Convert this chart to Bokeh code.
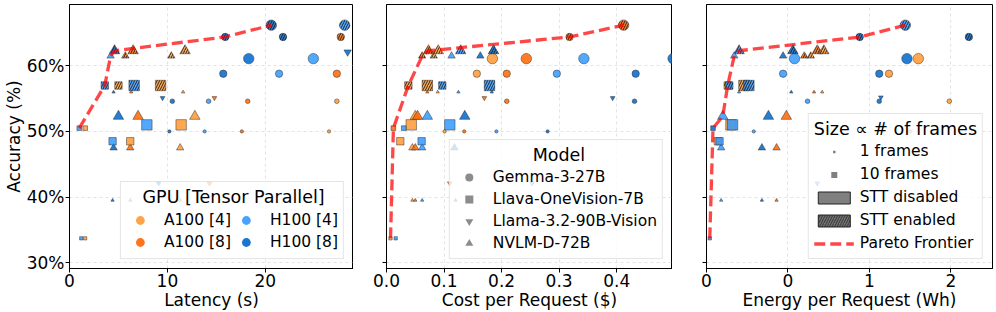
import math
from bokeh.plotting import figure
from bokeh.models import Range1d, FixedTicker, Legend, LegendItem, ColumnDataSource
from bokeh.layouts import row
from bokeh.embed import file_html
from bokeh.resources import INLINE

FONT = "DejaVu Sans"
NAN = float("nan")
NBSP = "\u00a0"

# ---------------- categories ----------------
GPU_KEYS = ["A4", "A8", "H4", "H8"]
GPU_LABELS = ["A100 [4]", "A100 [8]", "H100 [4]", "H100 [8]"]
MODEL_KEYS = ["G", "L", "M", "N"]
MODEL_LABELS = ["Gemma-3-27B", "Llava-OneVision-7B", "Llama-3.2-90B-Vision", "NVLM-D-72B"]
ACC_TICKS = [30, 40, 50, 60]
ACC_LABELS = ["30%", "40%", "50%", "60%"]
LEGEND_TITLES = ["GPU [Tensor Parallel]", "Model", "Size \u221d # of frames"]

# ---------------- panel 1: latency (s) ----------------
lat_s = [20.6, 28.1, 15.9, 21.8, 27.7, 18.3, 24.9, 15.7, 21.4, 27.3, 10.5, 14.2, 18.2, 27.3, 10.2, 13.8, 17.6, 26.5,
         4.2, 4.6, 5.7, 6.5, 10.4, 11.8, 4.5, 6.3, 11.6, 5.0, 7.0, 12.8, 4.5, 6.2, 11.3, 4.4, 6.2, 11.3,
         3.6, 5.0, 6.6, 9.3, 7.9, 11.4, 1.0, 1.6, 4.4, 6.2, 1.2, 1.6,
         28.4, 9.5, 14.8, 9.1, 14.3]
lat_acc = [66.2, 66.2, 64.4, 64.4, 64.4, 61.1, 61.1, 58.8, 58.8, 58.8, 54.6, 54.6, 54.6, 54.6, 50.0, 50.0, 50.0, 50.0,
           61.5, 62.3, 61.5, 62.3, 61.5, 62.3, 56.0, 56.0, 56.0, 52.3, 52.3, 52.3, 47.5, 47.5, 47.5, 39.5, 39.5, 39.5,
           57.0, 57.0, 57.0, 57.0, 51.0, 51.0, 50.5, 50.5, 48.5, 48.5, 33.7, 33.7,
           62.1, 55.1, 55.1, 42.1, 42.1]
lat_model = ["G"] * 18 + ["N"] * 18 + ["L"] * 12 + ["M"] * 5
lat_gpu = ["H8", "H4", "H8", "H8", "A8", "H8", "H4", "H8", "H4", "A8", "H8", "H4", "A8", "A4", "H8", "H4", "A8", "A4",
           "H4", "H8", "A8", "A8", "A4", "A4", "H8", "A8", "A4", "H8", "A8", "A4", "H8", "A8", "A4", "H8", "A8", "A4",
           "H4", "A4", "H4", "A4", "H4", "A4", "H4", "A4", "H4", "A4", "H4", "A4",
           "H8", "H8", "A8", "H8", "A8"]
lat_frames = [10, 10, 5, 5, 5, 10, 10, 5, 5, 5, 2, 2, 2, 2, 1, 1, 1, 1,
              5, 10, 5, 10, 5, 10, 1, 1, 1, 10, 10, 10, 5, 5, 5, 1, 1, 1,
              5, 5, 10, 10, 10, 10, 2, 2, 5, 5, 1, 1,
              5, 2, 2, 2, 2]
lat_stt = [1, 1, 1, 1, 1] + [0] * 13 + [0, 1, 1, 1, 1, 1] + [0] * 12 + [1, 1, 1, 1] + [0] * 8 + [0] * 5

# ---------------- panel 2: cost per request ($) ----------------
cost_usd = [0.412, 0.318, 0.184, 0.243, 0.343, 0.498, 0.157, 0.209, 0.296, 0.433, 0.209, 0.431, 0.101, 0.135, 0.191, 0.280,
            0.062, 0.073, 0.082, 0.090, 0.113, 0.129, 0.163, 0.186,
            0.071, 0.089, 0.125, 0.183, 0.050, 0.054, 0.071, 0.136, 0.045, 0.050, 0.062, 0.118, 0.045, 0.050, 0.062, 0.120,
            0.038, 0.071, 0.097, 0.179, 0.043, 0.110, 0.012, 0.030, 0.024, 0.061, 0.007, 0.016,
            0.170, 0.393, 0.110, 0.253]
cost_acc = [66.2, 64.4, 61.1, 61.1, 61.1, 61.1, 58.8, 58.8, 58.8, 58.8, 54.6, 54.6, 50.0, 50.0, 50.0, 50.0,
            61.5, 62.3, 61.5, 62.3, 61.5, 62.3, 61.5, 62.3,
            56.0, 56.0, 56.0, 56.0, 52.3, 52.3, 52.3, 52.3, 47.5, 47.5, 47.5, 47.5, 39.5, 39.5, 39.5, 39.5,
            57.0, 57.0, 57.0, 57.0, 51.0, 51.0, 50.5, 50.5, 48.5, 48.5, 33.7, 33.7,
            55.1, 55.1, 42.1, 42.1]
cost_model = ["G"] * 16 + ["N"] * 24 + ["L"] * 12 + ["M"] * 4
cost_gpu = ["A8", "A8", "A4", "A8", "H4", "H8", "A4", "A8", "H4", "H8", "A8", "H8", "A4", "A8", "H4", "H8",
            "A8", "A8", "A4", "A4", "H4", "H4", "H8", "H8",
            "A8", "A4", "H4", "H8", "A4", "A8", "H4", "H8", "A4", "A8", "H4", "H8", "A4", "A8", "H4", "H8",
            "A4", "A4", "H4", "H4", "A4", "H4", "A8", "H4", "A4", "H4", "A4", "H4",
            "A8", "H8", "A8", "H4"]
cost_frames = [10, 5, 10, 10, 10, 10, 5, 5, 5, 5, 2, 2, 1, 1, 1, 1,
               5, 10, 5, 10, 5, 10, 5, 10,
               1, 1, 1, 1, 10, 10, 10, 10, 5, 5, 5, 5, 1, 1, 1, 1,
               5, 10, 5, 10, 10, 10, 2, 2, 5, 5, 1, 1,
               2, 2, 2, 2]
cost_stt = [1, 1] + [0] * 14 + [1, 1, 1, 1, 0, 1, 0, 1] + [0] * 16 + [1, 1, 1, 1] + [0] * 8 + [0] * 4

# ---------------- panel 3: energy per request (Wh) ----------------
energy_wh = [1.22, 0.94, 1.61, 0.54, 1.23, 1.30, 0.47, 1.06, 1.12, 0.62, 1.06, 1.49, 0.29, 1.25,
             0.17, 0.20, 0.47, 0.53, 0.60, 0.64, 0.68, 0.72,
             0.20, 0.52, 0.66, 0.71, 0.10, 0.38, 0.49, 0.09, 0.34, 0.43, 0.09, 0.34, 0.43,
             0.13, 0.14, 0.23, 0.26, 0.15, 0.16, 0.04, 0.07, 0.08, 0.02,
             1.07, 0.68]
energy_acc = [66.2, 64.4, 64.4, 61.1, 61.1, 61.1, 58.8, 58.8, 58.8, 54.6, 54.6, 54.6, 50.0, 50.0,
              61.5, 62.3, 61.5, 62.3, 61.5, 61.5, 62.3, 62.3,
              56.0, 56.0, 56.0, 56.0, 52.3, 52.3, 52.3, 47.5, 47.5, 47.5, 39.5, 39.5, 39.5,
              57.0, 57.0, 57.0, 57.0, 51.0, 51.0, 50.5, 48.5, 48.5, 33.7,
              55.2, 42.1]
energy_model = ["G"] * 14 + ["N"] * 21 + ["L"] * 10 + ["M"] * 2
energy_gpu = ["H4", "H8", "H8", "H4", "H8", "A4", "H4", "H8", "A4", "H4", "H8", "A4", "H4", "A4",
              "H4", "H4", "H8", "H8", "A8", "A4", "A8", "A4",
              "H4", "H8", "A8", "A4", "H4", "H8", "A8", "H4", "H8", "A8", "H4", "H8", "A8",
              "A4", "H4", "A4", "H4", "A4", "H4", "H8", "A4", "H4", "H4",
              "H8", "H4"]
energy_frames = [10, 5, 5, 10, 10, 10, 5, 5, 5, 2, 2, 2, 1, 1,
                 5, 10, 5, 10, 5, 5, 10, 10,
                 1, 1, 1, 1, 10, 10, 10, 5, 5, 5, 1, 1, 1,
                 5, 5, 10, 10, 10, 10, 2, 5, 5, 1,
                 2, 2]
energy_stt = [1, 1, 1] + [0] * 11 + [0, 1, 0, 1, 1, 1, 1, 1] + [0] * 13 + [1, 1, 1, 1] + [0] * 6 + [0, 0]

# ---------------- styles ----------------
GPU_COLORS = {"A4": "#FF9933", "A8": "#FF6600", "H4": "#3399FF", "H8": "#0066CC"}
MARKERS = {"G": "circle", "L": "square", "M": "inverted_triangle", "N": "triangle"}


def marker_size(f):
    return 3.3 * math.sqrt(f)


def pareto(xs, ys):
    fx, fy, best = [], [], -1e9
    for x, y in sorted(zip(xs, ys)):
        if y > best:
            fx.append(x)
            fy.append(y)
            best = y
    return fx, fy


def style_legend(leg):
    leg.title_text_font = FONT
    leg.title_text_font_size = "17.5px"
    leg.title_text_font_style = "normal"
    leg.title_text_color = "black"
    leg.label_text_font = FONT
    leg.label_text_font_size = "15.5px"
    leg.label_text_color = "black"
    leg.border_line_color = "#cccccc"
    leg.border_line_width = 1
    leg.background_fill_color = "white"
    leg.background_fill_alpha = 0.8
    leg.location = "bottom_right"
    leg.margin = 9
    leg.padding = 5
    leg.title_standoff = 2


def build_panel(xs, acc, models, gpus, frames, stt, xmax, xticks, xlabels, xlabel,
                width, left, right, ylabels):
    p = figure(width=width, height=312, output_backend="svg", toolbar_location=None,
               x_range=Range1d(0, xmax), y_range=Range1d(29.1, 69.35),
               min_border_left=left, min_border_right=right, min_border_top=4, min_border_bottom=0)
    p.background_fill_color = "white"
    p.border_fill_color = "white"
    p.outline_line_color = "black"
    p.outline_line_width = 1

    order = sorted(range(len(xs)), key=lambda i: -frames[i])
    src = ColumnDataSource(dict(
        x=[xs[i] for i in order],
        y=[acc[i] for i in order],
        marker=[MARKERS[models[i]] for i in order],
        color=[GPU_COLORS[gpus[i]] for i in order],
        size=[marker_size(frames[i]) for i in order],
        hatch=["/" if stt[i] else " " for i in order],
    ))
    p.scatter("x", "y", source=src, marker="marker", size="size", fill_color="color", fill_alpha=0.85,
              line_color="#2b2b2b", line_alpha=0.8, line_width=0.6,
              hatch_pattern="hatch", hatch_color="#1a1a1a", hatch_alpha=0.9,
              hatch_scale=5, hatch_weight=1)
    fx, fy = pareto(xs, acc)
    fr = p.line(fx, fy, line_color="#ff0000", line_alpha=0.72, line_width=3.3, line_dash="11 5")

    p.xaxis.ticker = FixedTicker(ticks=xticks)
    p.xaxis.major_label_overrides = dict(zip(xticks, xlabels))
    p.yaxis.ticker = FixedTicker(ticks=ACC_TICKS)
    p.yaxis.major_label_overrides = dict(zip(ACC_TICKS, ylabels))
    p.xaxis.axis_label = xlabel
    if ylabels[0]:
        p.yaxis.axis_label = "Accuracy (%)"
    for ax in (p.xaxis[0], p.yaxis[0]):
        ax.axis_line_color = "black"
        ax.major_tick_line_color = "black"
        ax.minor_tick_line_color = None
        ax.major_tick_out = 4
        ax.major_tick_in = 0
        ax.major_label_text_font = FONT
        ax.major_label_text_font_size = "17px"
        ax.major_label_text_color = "black"
        ax.axis_label_text_font = FONT
        ax.axis_label_text_font_size = "17px"
        ax.axis_label_text_font_style = "normal"
        ax.axis_label_text_color = "black"
        ax.major_label_standoff = 1
        ax.axis_label_standoff = 0
    p.grid.grid_line_color = "#b0b0b0"
    p.grid.grid_line_alpha = 0.45
    p.grid.grid_line_dash = "3 3"
    p.grid.grid_line_width = 0.8
    return p, fr


p1, fr1 = build_panel(lat_s, lat_acc, lat_model, lat_gpu, lat_frames, lat_stt,
                      29.0, [0, 10, 20], ["0", "10", "20"], "Latency (s)",
                      353, 67, 0, ACC_LABELS)
p2, fr2 = build_panel(cost_usd, cost_acc, cost_model, cost_gpu, cost_frames, cost_stt,
                      0.497, [0, 0.1, 0.2, 0.3, 0.4], ["0.0", "0.1", "0.2", "0.3", "0.4"], "Cost per Request ($)",
                      319, 33, 0, ["", "", "", ""])
p3, fr3 = build_panel(energy_wh, energy_acc, energy_model, energy_gpu, energy_frames, energy_stt,
                      1.755, [0, 0.5, 1, 1.5], ["0", "0", "1", "2"], "Energy per Request (Wh)",
                      324, 34, 4, ["", "", "", ""])

# ---- legend 1: GPU ----
gpu_items = []
for k, lab in zip(GPU_KEYS, GPU_LABELS):
    r = p1.scatter([NAN], [NAN], marker="circle", size=9, fill_color=GPU_COLORS[k], fill_alpha=0.9, line_color=None)
    gpu_items.append(LegendItem(label=lab, renderers=[r]))
leg1 = Legend(items=gpu_items, title=NBSP * 3 + LEGEND_TITLES[0], ncols=2)
style_legend(leg1)
leg1.glyph_width = 28
leg1.glyph_height = 22
leg1.label_standoff = 10
leg1.label_width = 68
leg1.spacing = 0
p1.add_layout(leg1)

# ---- legend 2: model ----
model_items = []
for k, lab in zip(MODEL_KEYS, MODEL_LABELS):
    r = p2.scatter([NAN], [NAN], marker=MARKERS[k], size=8, fill_color="#808080", fill_alpha=0.9, line_color=None)
    model_items.append(LegendItem(label=lab, renderers=[r]))
leg2 = Legend(items=model_items, title=NBSP * 14 + LEGEND_TITLES[1])
style_legend(leg2)
leg2.glyph_width = 28
leg2.glyph_height = 20
leg2.label_standoff = 10
leg2.spacing = 2
p2.add_layout(leg2)

# ---- legend 3: size / STT / frontier ----
r_f1 = p3.scatter([NAN], [NAN], marker="square", size=6, fill_color="#808080", line_color="white", line_width=3.5)
r_f10 = p3.scatter([NAN], [NAN], marker="square", size=6, fill_color="#808080", line_color=None)
r_off = p3.quad(left=[NAN], right=[NAN], top=[NAN], bottom=[NAN],
                fill_color="#808080", line_color="#222222", line_width=1)
r_on = p3.quad(left=[NAN], right=[NAN], top=[NAN], bottom=[NAN],
               fill_color="#808080", line_color="#222222", line_width=1,
               hatch_pattern="/", hatch_color="#222222", hatch_scale=5, hatch_weight=1)
leg3 = Legend(items=[LegendItem(label="1 frames", renderers=[r_f1]),
                     LegendItem(label="10 frames", renderers=[r_f10]),
                     LegendItem(label="STT disabled", renderers=[r_off]),
                     LegendItem(label="STT enabled", renderers=[r_on]),
                     LegendItem(label="Pareto Frontier", renderers=[fr3])],
              title=LEGEND_TITLES[2])
style_legend(leg3)
leg3.glyph_width = 40
leg3.glyph_height = 15
leg3.label_height = 20
leg3.label_standoff = 6
leg3.spacing = 3
p3.add_layout(leg3)

layout = row(p1, p2, p3)
open("out.html", "w").write(file_html(layout, INLINE))
